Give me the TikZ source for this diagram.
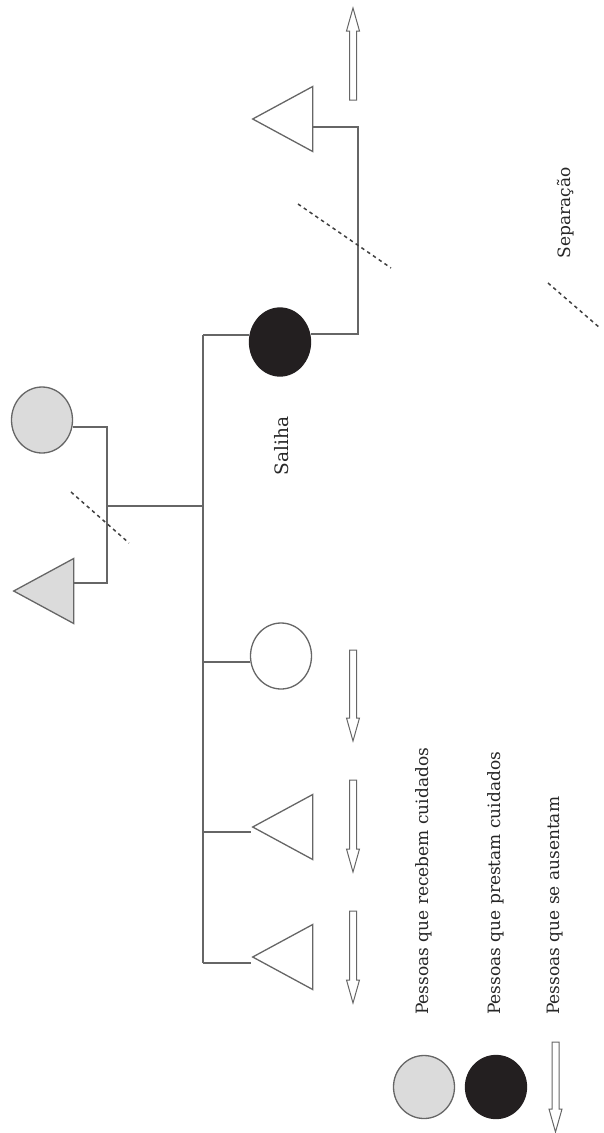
\documentclass[tikz,border=0pt]{standalone}
\usepackage{fontspec}
\setmainfont{DejaVu Serif}
\usetikzlibrary{shapes.geometric}
\definecolor{linegray}{gray}{0.40}
\definecolor{carefill}{gray}{0.86}
\definecolor{giverfill}{HTML}{231F20}
\tikzset{
  x=1pt, y=-1pt,
  kin/.style={draw=linegray, line width=1.3pt},
  person/.style={ellipse, inner sep=0pt, minimum width=61pt, minimum height=66pt, kin},
  male/.style={isosceles triangle, isosceles triangle stretches, shape border rotate=180,
               inner sep=0pt, minimum width=65pt, minimum height=60pt, anchor=apex, kin},
  receives/.style={fill=carefill},
  gives/.style={fill=giverfill, draw=giverfill},
  sep/.style={dashed, dash pattern=on 3.5pt off 3.5pt, line width=1.5pt, draw=black!75},
  exitarrow/.style={draw=linegray, line width=1pt, fill=white, line join=miter},
  label/.style={font=\fontsize{17}{19}\selectfont, text=black!85, rotate=90, inner sep=0pt}
}
% hollow block arrow: #1 = x of axis, #2 = tail y, #3 = tip y, #4 = +1 down / -1 up
\newcommand\hollowarrow[4]{%
  \draw[exitarrow] ({#1-3.5},{#2}) -- ({#1+3.5},{#2}) -- ({#1+3.5},{#3-#4*23})
    -- ({#1+6.5},{#3-#4*23}) -- ({#1},{#3}) -- ({#1-6.5},{#3-#4*23})
    -- ({#1-3.5},{#3-#4*23}) -- cycle;}
\begin{document}
\begin{tikzpicture}
\useasboundingbox (0,0) rectangle (603,1133);

% parents of the sibling line
\node[person, receives] (mother) at (42,420) {};
\node[male, receives] (father) at (12,591) {};
\coordinate (parentsbar) at (107,506);
\coordinate (sibtop) at (203,335);
\coordinate (sibbot) at (203,963);
\coordinate (sibmid) at (203,506);

% siblings
\node[person, gives, minimum height=68pt] (saliha) at (280,342) {};
\node[person] (sister) at (281,656) {};
\node[male] (brother1) at (251,827) {};
\node[male] (brother2) at (251,957) {};

% Saliha's former partner
\node[male] (partner) at (251,119) {};
\coordinate (marriage) at (358,334);

% parental union
\draw[kin] (mother.east |- 0,427) -| (parentsbar) |- (father.east |- 0,583);
\draw[kin] (parentsbar) -- (sibmid);

% sibling line
\draw[kin] (sibtop) -- (sibbot);
\draw[kin] (sibtop) -- (saliha.west |- sibtop);
\draw[kin] (sibtop |- 0,662) -- (sister.west |- 0,662);
\draw[kin] (sibtop |- 0,832) -- (brother1.apex |- 0,832);
\draw[kin] (sibbot) -- (brother2.apex |- sibbot);

% Saliha's marriage
\draw[kin] (saliha.east |- marriage) -- (marriage) |- (partner.east |- 0,127);

% separations
\draw[sep] (71,492) -- (129,543);
\draw[sep] (298,204) -- (391,268);

% people who leave
\hollowarrow{353}{100}{8}{-1}
\hollowarrow{353}{650}{741}{1}
\hollowarrow{353}{780}{872}{1}
\hollowarrow{353}{911}{1003}{1}

\node[label, font=\fontsize{18.5}{20}\selectfont] (salihaname) at (282,446) {Saliha};
\node[label] (septext) at (566,213) {Separação};

% legend
\draw[sep] (548,283) -- (600,328);
\node[person, receives, minimum height=63pt] (keyreceive) at (424,1087) {};
\node[person, gives, minimum height=63pt] (keygive) at (496,1087) {};
\hollowarrow{555.5}{1042}{1132}{1}
\node[label, anchor=west] (keyreceivetext) at (424,1015) {Pessoas que recebem cuidados};
\node[label, anchor=west] (keygivetext) at (496,1015) {Pessoas que prestam cuidados};
\node[label, anchor=west] (keyleavetext) at (555,1015) {Pessoas que se ausentam};
\end{tikzpicture}
\end{document}
